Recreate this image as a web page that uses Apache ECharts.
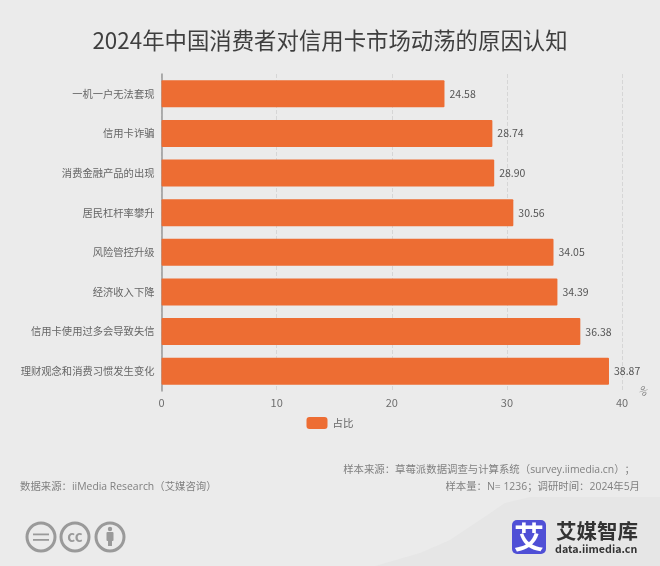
<!DOCTYPE html>
<html><head><meta charset="utf-8">
<style>html,body{margin:0;padding:0;background:#ebebeb}#c{width:660px;height:566px}</style>
<script src="https://cdn.jsdelivr.net/npm/echarts@6/dist/echarts.min.js"></script>
</head><body><div id="c"></div>
<script>
const categories = ['一机一户无法套现','信用卡诈骗','消费金融产品的出现','居民杠杆率攀升','风险管控升级','经济收入下降','信用卡使用过多会导致失信','理财观念和消费习惯发生变化'];
const shares = [24.58,28.74,28.90,30.56,34.05,34.39,36.38,38.87];
const xTicks = {min:0,max:40,interval:10};
const seriesName = '占比';
const titleText = '2024年中国消费者对信用卡市场动荡的原因认知';
const sourceLeft = '数据来源\uFF1AiiMedia Research\uFF08艾媒咨询\uFF09';
const sampleLine1 = '样本来源\uFF1A草莓派数据调查与计算系统\uFF08survey.iimedia.cn\uFF09\uFF1B';
const sampleLine2 = '样本量\uFF1AN= 1236\uFF1B调研时间\uFF1A2024年5月';
const FONT = '"Noto Sans CJK SC","Open Sans",sans-serif';
const FOOT = '"Open Sans","Noto Sans CJK SC",sans-serif';
const chart = echarts.init(document.getElementById('c'));
const txt = (x,y,text,size,fill,align,weight,font)=>({type:'text',x,y,style:{text,fontSize:size,fill,align:align||'left',verticalAlign:'middle',fontFamily:font||FONT,fontWeight:weight||'normal'},z:5});
const ring = (cx)=>({type:'circle',shape:{cx,cy:537,r:14},style:{fill:'none',stroke:'#9a9a9a',lineWidth:3},z:5});
chart.setOption({
  animation:false,
  backgroundColor:'#ebebeb',
  title:{text:titleText,left:'center',top:24,textStyle:{fontSize:22.4,fontWeight:'normal',color:'#3f3f3f',fontFamily:FONT}},
  textStyle:{fontFamily:FONT},
  legend:{bottom:132,left:'center',itemWidth:21,itemHeight:12,itemGap:8,data:[seriesName],textStyle:{fontSize:10.5,color:'#666'},itemStyle:{borderRadius:3}},
  grid:{left:161.5,right:38,top:74,height:317,containLabel:false},
  xAxis:{type:'value',min:xTicks.min,max:xTicks.max,interval:xTicks.interval,name:'%',nameLocation:'end',nameGap:15,nameRotate:-45,
    nameTextStyle:{fontSize:10,color:'#777',verticalAlign:'bottom'},
    axisLine:{show:false},axisTick:{show:false},
    axisLabel:{fontSize:11,color:'#6e6e6e',margin:6},
    splitLine:{show:true,lineStyle:{color:'#d6d6d6',type:'dashed',width:1}}},
  yAxis:{type:'category',inverse:true,data:categories,
    axisLine:{show:true,lineStyle:{color:'#999',width:1.5}},axisTick:{show:false},
    axisLabel:{fontSize:10.3,color:'#666',margin:7}},
  series:[{name:seriesName,type:'bar',data:shares,barWidth:27,
    itemStyle:{color:'#ed6d33',borderRadius:1},
    label:{show:true,position:'right',distance:5,fontSize:10.5,color:'#555',formatter:p=>p.value.toFixed(2)}}],
  graphic:[
    {type:'polygon',shape:{points:[[660,497],[530,497],[505,503],[480,520],[450,540],[420,553],[375,566],[660,566]]},style:{fill:'#e6e6e6'},z:0,silent:true},
    txt(20,487.5,sourceLeft,10.4,'#808080','left','normal',FOOT),
    txt(635,470,sampleLine1,10.4,'#808080','right','normal',FOOT),
    txt(640,487.5,sampleLine2,10.4,'#808080','right','normal',FOOT),
    ring(41),ring(75),ring(110),
    {type:'rect',shape:{x:33,y:533.5,width:16,height:1.8},style:{fill:'#9a9a9a'},z:5},
    {type:'rect',shape:{x:33,y:539,width:16,height:1.8},style:{fill:'#9a9a9a'},z:5},
    txt(75,536,'cc',15,'#9a9a9a','center','bold'),
    {type:'circle',shape:{cx:110,cy:529,r:2.2},style:{fill:'#9a9a9a'},z:5},
    {type:'rect',shape:{x:106.5,y:532,width:7,height:9,r:1},style:{fill:'#9a9a9a'},z:5},
    {type:'rect',shape:{x:108,y:540,width:4,height:6},style:{fill:'#9a9a9a'},z:5},
    {type:'rect',shape:{x:512,y:520,width:34,height:34,r:5},style:{fill:'#4f4fd6'},z:5},
    txt(529,537,'艾',30,'#fff','center','bold'),
    txt(556,531,'艾媒智库',20.5,'#333','left','bold'),
    txt(555,549,'data.iimedia.cn',10.7,'#333','left','bold')
  ]
});
</script></body></html>
